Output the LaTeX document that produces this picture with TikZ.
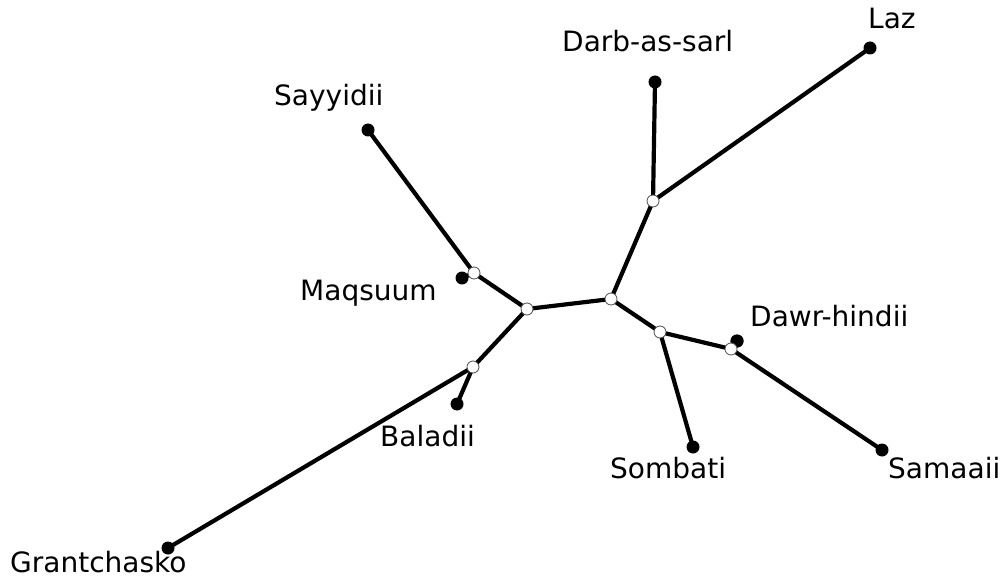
\documentclass[tikz,border=0pt]{standalone}
\usepackage{fontspec}
\setmainfont{DejaVu Sans}
\begin{document}
\begin{tikzpicture}[x=1pt,y=-1pt,
  leaf/.style={circle,fill=black,inner sep=0pt,minimum size=13pt},
  inner/.style={circle,draw=black!70,fill=white,line width=0.8pt,inner sep=0pt,minimum size=12pt},
  edge/.style={line width=4.2pt},
  lbl/.style={anchor=base west,inner sep=0pt,font=\fontsize{28}{32}\selectfont}]
\useasboundingbox (0,0) rectangle (1003,577);
% leaves
\node[leaf] (laz) at (870,48) {};
\node[leaf] (darb) at (655,82) {};
\node[leaf] (say) at (368,130) {};
\node[leaf] (maq) at (462,278) {};
\node[leaf] (bal) at (457,404) {};
\node[leaf] (gra) at (168,548) {};
\node[leaf] (som) at (693,447) {};
\node[leaf] (dawr) at (737,341) {};
\node[leaf] (sam) at (882,450) {};
% internal
\coordinate (cA) at (653,201);
\coordinate (cB) at (611,299);
\coordinate (cC) at (527,309);
\coordinate (cD) at (473,367);
\coordinate (cE) at (660,332);
\coordinate (cF) at (731,349);
\coordinate (cG) at (474,273);
% edges
\draw[edge] (laz.center) -- (cA) -- (darb.center);
\draw[edge] (cA) -- (cB) -- (cC);
\draw[edge] (cB) -- (cE) -- (som.center);
\draw[edge] (cE) -- (cF) -- (sam.center);
\draw[edge] (cF) -- (dawr.center);
\draw[edge] (cC) -- (cG) -- (say.center);
\draw[edge] (cG) -- (maq.center);
\draw[edge] (cC) -- (cD) -- (gra.center);
\draw[edge] (cD) -- (bal.center);
\node[leaf] at (dawr) {};
\foreach \c in {cA,cB,cC,cD,cE,cF,cG} \node[inner] at (\c) {};
% labels
\node[lbl] (tlaz) at (868,29) {Laz};
\node[lbl] (tdarb) at (562,52) {Darb-as-sarl};
\node[lbl] (tsay) at (274,106) {Sayyidii};
\node[lbl] (tmaq) at (300,300) {Maqsuum};
\node[lbl] (tdawr) at (750,326) {Dawr-hindii};
\node[lbl] (tbal) at (380,446) {Baladii};
\node[lbl] (tsom) at (610,478) {Sombati};
\node[lbl] (tsam) at (888,478) {Samaaii};
\node[lbl] (tgra) at (10,572) {Grantchasko};
\end{tikzpicture}
\end{document}
